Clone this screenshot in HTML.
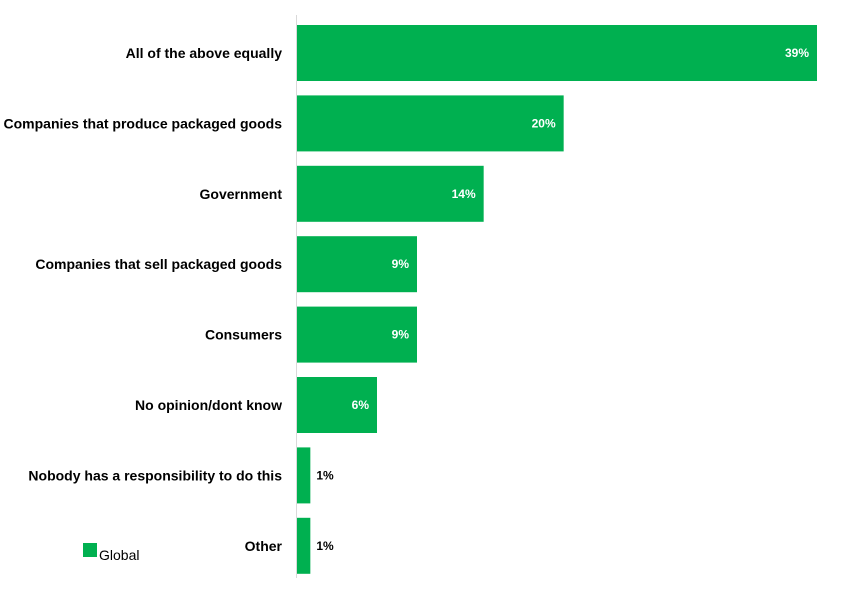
<!DOCTYPE html>
<html><head><meta charset="utf-8"><style>
body{margin:0;background:#fff;width:852px;height:604px;overflow:hidden;font-family:"Liberation Sans",sans-serif}
svg{display:block}
</style></head><body>
<svg id="chart" width="852" height="604">
<line x1="296.5" y1="15" x2="296.5" y2="578" stroke="#d9d9d9" stroke-width="1"/>
<g id="bars"></g>
<rect x="83" y="543" width="14" height="14" fill="#00B050"/>
<text x="99" y="560" font-size="14" fill="#000">Global</text>
</svg>
<script>
const categories=["All of the above equally","Companies that produce packaged goods","Government","Companies that sell packaged goods","Consumers","No opinion/dont know","Nobody has a responsibility to do this","Other"];
const values=[39,20,14,9,9,6,1,1];
const valueLabels=["39%","20%","14%","9%","9%","6%","1%","1%"];
const x0=297,pxPer=520/39,top0=25,step=70.4,bh=56;
const xs=v=>x0+v*pxPer;
const ys=i=>top0+i*step;
const g=document.getElementById('bars');
const NS='http://www.w3.org/2000/svg';
categories.forEach((c,i)=>{
 const y=ys(i),w=xs(values[i])-x0;
 const r=document.createElementNS(NS,'rect');
 r.setAttribute('x',x0);r.setAttribute('y',y);r.setAttribute('width',w);r.setAttribute('height',bh);r.setAttribute('fill','#00B050');
 
 
 g.appendChild(r);
 const t=document.createElementNS(NS,'text');
 t.setAttribute('x',282);t.setAttribute('y',y+bh/2+5);t.setAttribute('text-anchor','end');
 t.setAttribute('font-size','14');t.setAttribute('font-weight','bold');t.textContent=c;
 
 
 g.appendChild(t);
 const v=document.createElementNS(NS,'text');
 const inside=w>40;
 v.setAttribute('x',inside?xs(values[i])-8:xs(values[i])+6);
 v.setAttribute('y',y+bh/2+4);
 v.setAttribute('text-anchor',inside?'end':'start');
 v.setAttribute('font-size','12');v.setAttribute('font-weight','bold');
 v.setAttribute('fill',inside?'#fff':'#000');
 v.textContent=valueLabels[i];
 
 
 g.appendChild(v);
});
</script>
</body></html>
